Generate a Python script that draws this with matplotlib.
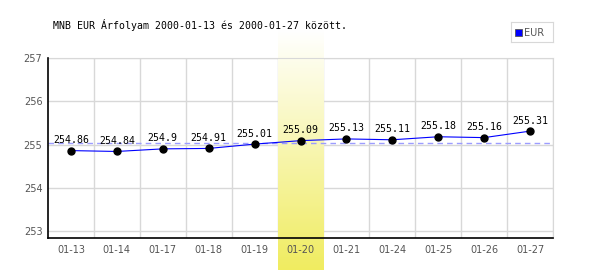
import numpy as np
import matplotlib
matplotlib.use("Agg")
import matplotlib.pyplot as plt
from matplotlib.colors import LinearSegmentedColormap

# adatok
dates = ["01-13", "01-14", "01-17", "01-18", "01-19", "01-20",
         "01-21", "01-24", "01-25", "01-26", "01-27"]
eur = [254.86, 254.84, 254.9, 254.91, 255.01, 255.09,
       255.13, 255.11, 255.18, 255.16, 255.31]
value_labels = ["254.86", "254.84", "254.9", "254.91", "255.01", "255.09",
                "255.13", "255.11", "255.18", "255.16", "255.31"]
highlight_date = "01-20"
title = "MNB EUR Árfolyam 2000-01-13 és 2000-01-27 között."

fig = plt.figure(figsize=(6, 2.7), dpi=100)
ax = fig.add_axes([48 / 600, 1 - 238 / 270, 505 / 600, 180 / 270])

x = np.arange(len(dates))
ymin, ymax = 252.84, 257.0

grid_c = "#d8d8d8"
for yv in range(253, 258):
    ax.axhline(yv, color=grid_c, lw=1, zorder=0.8)
for xv in np.arange(0.5, len(dates), 1):
    ax.axvline(xv, color=grid_c, lw=1, zorder=0.8)

# kiemelt nap, szines atmenet
cmap = LinearSegmentedColormap.from_list("hl", ["#ffffff", "#f0ec60"])
hi = dates.index(highlight_date)
upp = 180 / (ymax - ymin)  # px per unit
grad = np.linspace(0, 1, 256).reshape(-1, 1)
ax.imshow(grad, cmap=cmap, aspect="auto", origin="upper",
          extent=[hi - 0.5, hi + 0.5, ymin - 32 / upp, ymax + 28 / upp],
          clip_on=False, zorder=1.2, interpolation="bilinear")
ax.set_xlim(-0.5, len(dates) - 0.5)
ax.set_ylim(ymin, ymax)

# atlag
ax.axhline(np.mean(eur), color="#9c9cff", lw=1, ls=(0, (4, 3)), zorder=3)

ax.plot(x, eur, color="#0000ff", lw=0.8, zorder=4)
ax.plot(x, eur, "o", color="black", ms=5, zorder=5)

for xi, yi, s in zip(x, eur, value_labels):
    ax.annotate(s, (xi, yi), xytext=(0, 4), textcoords="offset points",
                ha="center", va="bottom", fontsize=7.1,
                family="DejaVu Sans Mono", color="black", zorder=6)

ax.set_xticks(x)
ax.set_xticklabels(dates)
ax.set_yticks(range(253, 258))
ax.tick_params(length=0, labelsize=7, labelcolor="#555555")
ax.tick_params(axis="x", pad=5)
ax.tick_params(axis="y", pad=4)
ax.xaxis.set_zorder(2)
ax.yaxis.set_zorder(2)

for s in ["top", "right"]:
    ax.spines[s].set_color(grid_c)
for s in ["left", "bottom"]:
    ax.spines[s].set_color("black")
    ax.spines[s].set_linewidth(1.2)
    ax.spines[s].set_zorder(7)

fig.text(53 / 600, 1 - 25 / 270, title, fontsize=7.1,
         family="DejaVu Sans Mono", ha="left", va="center")

# jelmagyarazat
lax = fig.add_axes([511 / 600, 1 - 42 / 270, 42 / 600, 20 / 270])
lax.set_xlim(0, 42)
lax.set_ylim(0, 20)
lax.set_xticks([])
lax.set_yticks([])
for s in lax.spines.values():
    s.set_color("#d8d8d8")
lax.add_patch(plt.Rectangle((4, 6.5), 6.5, 6.5, facecolor="#0000ff",
                            edgecolor="#555555", lw=0.6))
lax.text(13, 9.5, "EUR", fontsize=7, color="#555555", va="center", ha="left")

fig.savefig("out.png", dpi=100)
